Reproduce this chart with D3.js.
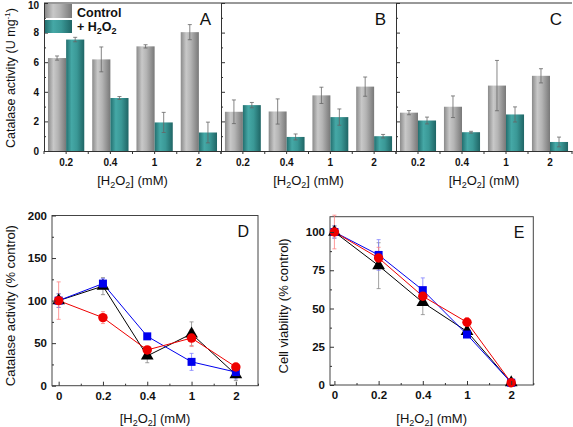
<!DOCTYPE html>
<html><head><meta charset="utf-8">
<script src="https://cdn.jsdelivr.net/npm/d3@7"></script>
<style>
html,body{margin:0;padding:0;background:#fff;}
svg{display:block;font-family:"Liberation Sans",Arial,sans-serif;}
</style></head>
<body>
<svg id="chart" width="573" height="427"></svg>
<script>
// ---------- data ----------
const concLabels = ["0.2", "0.4", "1", "2"];
const ctrlA = [6.28, 6.19, 7.07, 8.03];
const ctrlAErr = [0.14, 0.84, 0.11, 0.51];
const h2o2A = [7.53, 3.58, 1.93, 1.25];
const h2o2AErr = [0.15, 0.1, 0.68, 0.7];
const ctrlB = [2.65, 2.67, 3.76, 4.35];
const ctrlBErr = [0.8, 0.85, 0.55, 0.65];
const h2o2B = [3.1, 0.95, 2.29, 1.0];
const h2o2BErr = [0.18, 0.2, 0.55, 0.12];
const ctrlC = [2.59, 2.99, 4.42, 5.08];
const ctrlCErr = [0.14, 0.73, 1.7, 0.48];
const h2o2C = [2.06, 1.27, 2.47, 0.61];
const h2o2CErr = [0.23, 0.06, 0.51, 0.33];
const topYTicks = [0, 2, 4, 6, 8, 10];

const doseLabels = ["0", "0.2", "0.4", "1", "2"];
const dBlue = [100, 120, 58, 28, 16];
const dBlueErr = [8, 6, 2, 10, 8];
const dBlack = [100, 117, 35, 61, 13];
const dBlackErr = [8, 10, 8, 14, 7];
const dRed = [100, 80, 42, 56, 22];
const dRedErr = [22, 7, 3, 10, 3];
const eBlue = [100, 85, 62, 33, 1.5];
const eBlueErr = [4, 10, 8, 2, 1];
const eBlack = [100, 78, 54, 35, 1.5];
const eBlackErr = [4, 15, 8, 3, 1];
const eRed = [100, 83, 58, 41, 1.5];
const eRedErr = [11, 7, 5, 3, 1];
const dYTicks = [0, 50, 100, 150, 200];
const eYTicks = [0, 25, 50, 75, 100];

// ---------- setup ----------
const svg = d3.select("#chart");
const FONT = '"Liberation Sans", Arial, sans-serif';
const defs = svg.append("defs");
function grad(id, stops) {
  const g = defs.append("linearGradient").attr("id", id).attr("x1", "0%").attr("x2", "100%").attr("y1", "0%").attr("y2", "0%");
  stops.forEach(s => g.append("stop").attr("offset", s[0]).attr("stop-color", s[1]));
}
grad("gGrey", [["0%", "#8a8a8a"], ["30%", "#c8c8c8"], ["55%", "#b4b4b4"], ["100%", "#787878"]]);
grad("gTeal", [["0%", "#236f6f"], ["30%", "#45a8a6"], ["60%", "#3a9896"], ["100%", "#1f6565"]]);

function styleAxis(g, size, weight) {
  g.selectAll("path.domain").attr("stroke", "#333").attr("stroke-width", 1);
  g.selectAll(".tick line").attr("stroke", "#333");
  g.selectAll(".tick text").attr("font-family", FONT).attr("font-size", size).attr("font-weight", weight).attr("fill", "#111");
}
function h2o2Label(x, y) {
  const t = svg.append("text").attr("x", x).attr("y", y).attr("text-anchor", "middle")
    .attr("font-family", FONT).attr("font-size", 13).attr("fill", "#111");
  t.append("tspan").text("[H");
  t.append("tspan").text("2").attr("font-size", 9).attr("dy", 3);
  t.append("tspan").text("O").attr("dy", -3);
  t.append("tspan").text("2").attr("font-size", 9).attr("dy", 3);
  t.append("tspan").text("] (mM)").attr("dy", -3);
}

// ---------- top panels ----------
const topY = d3.scaleLinear().domain([0, 10]).range([151, 3]);
const panels = [
  {x0: 44, x1: 221, ctrl: ctrlA, ce: ctrlAErr, h: h2o2A, he: h2o2AErr, letter: "A"},
  {x0: 221, x1: 396, ctrl: ctrlB, ce: ctrlBErr, h: h2o2B, he: h2o2BErr, letter: "B"},
  {x0: 396, x1: 572, ctrl: ctrlC, ce: ctrlCErr, h: h2o2C, he: h2o2CErr, letter: "C"}
];
panels.forEach((p, pi) => {
  const x = d3.scaleBand().domain(concLabels).range([p.x0, p.x1]).paddingInner(0.18).paddingOuter(0.09);
  const bw = x.bandwidth() / 2;
  const g = svg.append("g");
  const series = [{v: p.ctrl, e: p.ce, fill: "url(#gGrey)", off: 0}, {v: p.h, e: p.he, fill: "url(#gTeal)", off: bw}];
  series.forEach(s => {
    g.selectAll(null).data(concLabels).enter().append("rect")
      .attr("x", d => x(d) + s.off).attr("width", bw)
      .attr("y", (d, i) => topY(s.v[i])).attr("height", (d, i) => topY(0) - topY(s.v[i]))
      .attr("fill", s.fill);
  });
  series.forEach(s => {
    concLabels.forEach((d, i) => {
      const cx = x(d) + s.off + bw / 2;
      const y1 = topY(s.v[i] + s.e[i]), y2 = topY(s.v[i] - s.e[i]);
      g.append("line").attr("x1", cx).attr("x2", cx).attr("y1", y1).attr("y2", y2).attr("stroke", "#666").attr("stroke-width", 0.8);
      [y1, y2].forEach(yy => g.append("line").attr("x1", cx - 2).attr("x2", cx + 2).attr("y1", yy).attr("y2", yy).attr("stroke", "#666").attr("stroke-width", 0.8));
    });
  });
  // x axis
  const ax = svg.append("g").attr("transform", `translate(0,${topY(0)})`)
    .call(d3.axisBottom(x).tickSizeInner(3).tickSizeOuter(0).tickPadding(5));
  styleAxis(ax, 10, "bold");
  // boundary ticks
  const bounds = concLabels.map(d => x(d) - x.step() * x.paddingInner() / 2);
  bounds.push(p.x1);
  bounds.forEach(b => svg.append("line").attr("x1", b).attr("x2", b).attr("y1", topY(0)).attr("y2", topY(0) + 3).attr("stroke", "#333"));
  // left axis / divider
  const yAx = svg.append("g").attr("transform", `translate(${p.x0},0)`)
    .call(d3.axisLeft(topY).tickValues(topYTicks).tickSizeInner(-4).tickSizeOuter(0).tickPadding(pi === 0 ? 5 : 0)
      .tickFormat(pi === 0 ? d3.format("d") : () => ""));
  styleAxis(yAx, 10, "bold");
  yAx.selectAll(".tick text").filter(d => d === 10).attr("dy", "0.55em");
  const yMin = svg.append("g").attr("transform", `translate(${p.x0},0)`)
    .call(d3.axisLeft(topY).tickValues([1, 3, 5, 7, 9]).tickSizeInner(-2).tickSizeOuter(0).tickFormat(() => ""));
  styleAxis(yMin, 10, "bold");
  // letter
  svg.append("text").attr("x", p.x1 - 10).attr("y", 25).attr("text-anchor", "end")
    .attr("font-family", FONT).attr("font-size", 17).attr("fill", "#111").text(p.letter);
  h2o2Label((p.x0 + p.x1) / 2, 185);
});
// top border
svg.append("line").attr("x1", 44).attr("x2", 572).attr("y1", topY(10)).attr("y2", topY(10)).attr("stroke", "#333");

// y label top
{
  const t = svg.append("text").attr("transform", "translate(15,78) rotate(-90)").attr("text-anchor", "middle")
    .attr("font-family", FONT).attr("font-size", 12.5).attr("fill", "#111");
  t.append("tspan").text("Catalase activity (U mg");
  t.append("tspan").text("-1").attr("font-size", 8).attr("dy", -5);
  t.append("tspan").text(")").attr("dy", 5);
}
// legend
{
  const lg = svg.append("g");
  lg.append("rect").attr("x", 45).attr("y", 4).attr("width", 27).attr("height", 14).attr("fill", "url(#gGrey)");
  lg.append("rect").attr("x", 45).attr("y", 20).attr("width", 27).attr("height", 13).attr("fill", "url(#gTeal)");
  lg.append("text").attr("x", 77).attr("y", 17).attr("font-family", FONT).attr("font-size", 12.5).attr("font-weight", "bold").attr("fill", "#111").text("Control");
  const t = lg.append("text").attr("x", 77).attr("y", 31).attr("font-family", FONT).attr("font-size", 12.5).attr("font-weight", "bold").attr("fill", "#111");
  t.append("tspan").text("+ H");
  t.append("tspan").text("2").attr("font-size", 9).attr("dy", 3);
  t.append("tspan").text("O").attr("dy", -3);
  t.append("tspan").text("2").attr("font-size", 9).attr("dy", 3);
}

// ---------- bottom panels ----------
function linePanel(cfg) {
  const x = d3.scaleLinear().domain(cfg.xDom).range([cfg.left, cfg.right]);
  const y = d3.scaleLinear().domain(cfg.yDom).range([cfg.bottom, cfg.top]);
  const g = svg.append("g");
  g.append("rect").attr("x", cfg.left).attr("y", cfg.top).attr("width", cfg.right - cfg.left).attr("height", cfg.bottom - cfg.top)
    .attr("fill", "none").attr("stroke", "#444").attr("stroke-width", 1);
  const idx = doseLabels.map((d, i) => i);
  // y axis
  const ya = svg.append("g").attr("transform", `translate(${cfg.left},0)`)
    .call(d3.axisLeft(y).tickValues(cfg.yTicks).tickSizeInner(-4).tickSizeOuter(0).tickPadding(5));
  styleAxis(ya, 11.5, "bold");
  ya.select("path.domain").remove();
  const minorY = cfg.yTicks.slice(0, -1).map((v, i) => (v + cfg.yTicks[i + 1]) / 2);
  const yam = svg.append("g").attr("transform", `translate(${cfg.left},0)`)
    .call(d3.axisLeft(y).tickValues(minorY).tickSizeInner(-2).tickSizeOuter(0).tickFormat(() => ""));
  styleAxis(yam, 11, "bold"); yam.select("path.domain").remove();
  // x axis
  const xa = svg.append("g").attr("transform", `translate(0,${cfg.bottom})`)
    .call(d3.axisBottom(x).tickValues(idx).tickFormat(i => doseLabels[i]).tickSizeInner(-4).tickSizeOuter(0).tickPadding(6));
  styleAxis(xa, 11.5, "bold"); xa.select("path.domain").remove();
  const xam = svg.append("g").attr("transform", `translate(0,${cfg.bottom})`)
    .call(d3.axisBottom(x).tickValues(idx.map(i => i + 0.5)).tickSizeInner(-2).tickSizeOuter(0).tickFormat(() => ""));
  styleAxis(xam, 11, "bold"); xam.select("path.domain").remove();

  const line = d3.line().x((d, i) => x(i)).y(d => y(d));
  cfg.series.forEach(s => {
    g.append("path").datum(s.v).attr("d", line).attr("fill", "none").attr("stroke", s.color).attr("stroke-width", 1);
  });
  cfg.series.forEach(s => {
    s.v.forEach((v, i) => {
      const cx = x(i), y1 = y(v + s.e[i]), y2 = y(Math.max(v - s.e[i], 0));
      g.append("line").attr("x1", cx).attr("x2", cx).attr("y1", y1).attr("y2", y2).attr("stroke", s.errColor).attr("stroke-width", 0.8);
      [y1, y2].forEach(yy => g.append("line").attr("x1", cx - 2).attr("x2", cx + 2).attr("y1", yy).attr("y2", yy).attr("stroke", s.errColor).attr("stroke-width", 0.8));
    });
  });
  cfg.series.forEach(s => {
    g.selectAll(null).data(s.v).enter().append("path")
      .attr("transform", (d, i) => `translate(${x(i)},${y(d)})`)
      .attr("d", d3.symbol().type(s.sym).size(s.size))
      .attr("fill", s.color);
  });
  svg.append("text").attr("x", cfg.right - 9).attr("y", cfg.top + 21).attr("text-anchor", "end")
    .attr("font-family", FONT).attr("font-size", 16).attr("fill", "#111").text(cfg.letter);
  h2o2Label((cfg.left + cfg.right) / 2, 423);
  svg.append("text").attr("transform", `translate(${cfg.ylabX},${(cfg.top + cfg.bottom) / 2 + 5}) rotate(-90)`).attr("text-anchor", "middle")
    .attr("font-family", FONT).attr("font-size", 13).attr("fill", "#111").text(cfg.ylab);
}

function mkSeries(blue, blueE, black, blackE, red, redE) {
  return [
    {v: black, e: blackE, color: "#000000", errColor: "#888888", sym: d3.symbolTriangle, size: 70},
    {v: blue, e: blueE, color: "#0000ee", errColor: "#8080ff", sym: d3.symbolSquare, size: 64},
    {v: red, e: redE, color: "#ee0000", errColor: "#ff8080", sym: d3.symbolCircle, size: 70}
  ];
}

linePanel({left: 52, right: 258, top: 215.5, bottom: 385.7, xDom: [-0.15, 4.5], yDom: [0, 200], yTicks: dYTicks,
  series: mkSeries(dBlue, dBlueErr, dBlack, dBlackErr, dRed, dRedErr), letter: "D", ylab: "Catalase activity (% control)", ylabX: 15});
linePanel({left: 330, right: 533.3, top: 216.7, bottom: 385, xDom: [-0.1, 4.5], yDom: [0, 110], yTicks: eYTicks,
  series: mkSeries(eBlue, eBlueErr, eBlack, eBlackErr, eRed, eRedErr), letter: "E", ylab: "Cell viability (% control)", ylabX: 288});
</script>
</body></html>
